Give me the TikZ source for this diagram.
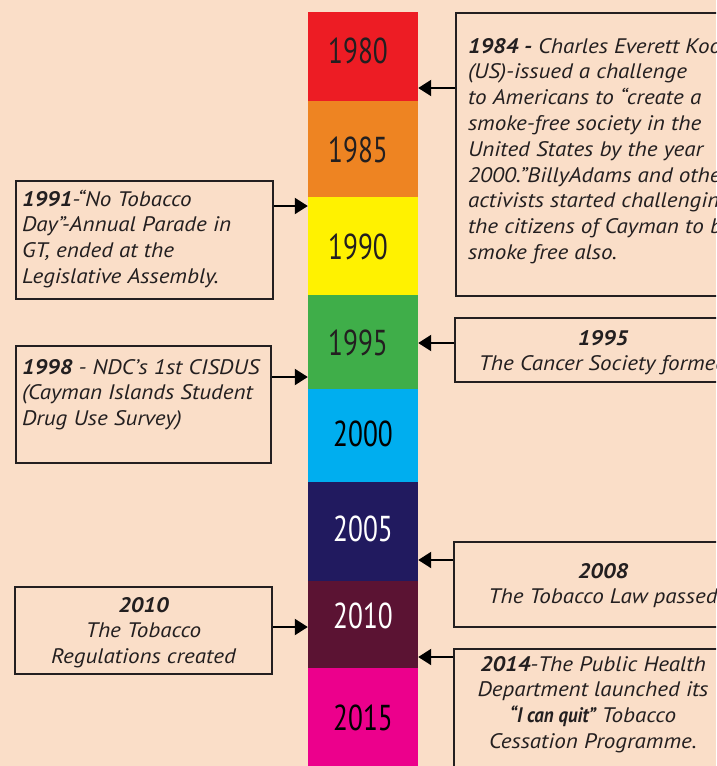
\documentclass[tikz,border=0pt]{standalone}
\usepackage{fontspec}
\setmainfont{PT Sans}
\newfontfamily\evfamily[FakeStretch=1.1]{PT Sans}
\newfontfamily\yearfont[FakeStretch=0.76]{PT Sans}
\newfontfamily\condfont[FakeStretch=0.9]{PT Sans}
\usepackage{xcolor}
\usetikzlibrary{arrows.meta}

\definecolor{bgpeach}{HTML}{FADEC8}
\definecolor{boxline}{HTML}{231F20}
\definecolor{c1980}{HTML}{ED1C24}
\definecolor{c1985}{HTML}{EE8422}
\definecolor{c1990}{HTML}{FFF200}
\definecolor{c1995}{HTML}{3FAE49}
\definecolor{c2000}{HTML}{00AEEF}
\definecolor{c2005}{HTML}{211A5F}
\definecolor{c2010}{HTML}{5B1333}
\definecolor{c2015}{HTML}{EC008C}

\newcommand{\evfont}{\evfamily\fontsize{21}{25.8}\selectfont\itshape}

\tikzset{
  seg/.style={minimum width=110pt, inner sep=0pt, anchor=north},
  yr/.style={font=\yearfont\fontsize{36}{36}\selectfont, inner sep=0pt, text=boxline},
  evbox/.style={draw=boxline, line width=2pt, inner sep=0pt, anchor=north west, font=\evfont, text=boxline},
  arr/.style={-{Triangle[length=13pt,width=16pt]}, line width=2pt, draw=black}
}

\begin{document}
\begin{tikzpicture}[x=1pt,y=-1pt]
                \useasboundingbox (0,0) rectangle (716,766);
                \clip (0,0) rectangle (716,766);
                \fill [bgpeach] (0,0) rectangle (716,766);
                % colour bar
                \node [seg, fill=c1980, minimum height=89pt] (s1980) at (363,12) {};
                \node [seg, fill=c1985, minimum height=96.5pt] (s1985) at (363,100.5) {};
                \node [seg, fill=c1990, minimum height=99pt] (s1990) at (363,196.5) {};
                \node [seg, fill=c1995, minimum height=94.5pt] (s1995) at (363,295) {};
                \node [seg, fill=c2000, minimum height=93pt] (s2000) at (363,389) {};
                \node [seg, fill=c2005, minimum height=100pt] (s2005) at (363,481.5) {};
                \node [seg, fill=c2010, minimum height=87.5pt] (s2010) at (363,581) {};
                \node [seg, fill=c2015, minimum height=132pt] (s2015) at (363,668) {};
                \node [yr] (y1980) at (358,51) {1980};
                \node [yr] (y1985) at (358,150) {1985};
                \node [yr] (y1990) at (358,247) {1990};
                \node [yr] (y1995) at (358,343) {1995};
                \node [yr, text=black] (y2000) at (363,434) {2000};
                \node [yr, text=white] (y2005) at (363,529) {2005};
                \node [yr, text=white] (y2010) at (363,616) {2010};
                \node [yr, text=black] (y2015) at (363,718) {2015};
                % left boxes
                \node [evbox] (b1991) at (15,180) {\parbox[t][118pt][t]{257pt}{\raggedright\leftskip=6pt\vspace*{7pt}\strut\textbf{1991}-“No Tobacco\\ Day”-Annual Parade in\\ GT, ended at the\\ Legislative Assembly.}};
                \node [evbox] (b1998) at (15,345) {\parbox[t][117pt][t]{255pt}{\raggedright\leftskip=6pt\vspace*{10pt}\strut\textbf{1998} - NDC’s 1st CISDUS\\ (Cayman Islands Student\\ Drug Use Survey)}};
                \node [evbox] (b2010) at (14,586) {\parbox[t][87pt][t]{257pt}{\centering\vspace*{7pt}\strut\textbf{2010}\\ The Tobacco\\ Regulations created}};
                % right boxes
                \node [evbox] (b1984) at (455,12) {\parbox[t][283pt][t]{320pt}{\raggedright\leftskip=12pt\vspace*{22pt}\strut\textbf{1984 -} Charles Everett Koop\\ (US)-issued a challenge\\ to Americans to “create a\\ smoke-free society in the\\ United States by the year\\ 2000.”BillyAdams and other\\ activists started challenging\\ the citizens of Cayman to be\\ smoke free also.}};
                \node [evbox] (b1995) at (454,317) {\parbox[t][64pt][t]{296pt}{\centering\vspace*{9pt}\strut\textbf{1995}\\ The Cancer Society formed}};
                \node [evbox] (b2008) at (453,541) {\parbox[t][85pt][t]{298pt}{\centering\vspace*{18pt}\strut\textbf{2008}\\ The Tobacco Law passed}};
                \node [evbox] (b2014) at (453,648) {\parbox[t][150pt][t]{278pt}{\centering\vspace*{4pt}\strut\textbf{2014}-The Public Health\\ Department launched its\\ {\condfont\bfseries\itshape “I can quit”} Tobacco\\ Cessation Programme.}};
                % arrows
                \draw [arr] (b1984.west |- 0,88) -- (s1980.east |- 0,88);
                \draw [arr] (b1991.east |- 0,206) -- (s1990.west |- 0,206);
                \draw [arr] (b1995.west |- 0,343) -- (s1995.east |- 0,343);
                \draw [arr] (b1998.east |- 0,377) -- (s1995.west |- 0,377);
                \draw [arr] (b2008.west |- 0,560) -- (s2005.east |- 0,560);
                \draw [arr] (b2010.east |- 0,627) -- (s2010.west |- 0,627);
                \draw [arr] (b2014.west |- 0,657) -- (s2010.east |- 0,657);
\end{tikzpicture}
\end{document}
